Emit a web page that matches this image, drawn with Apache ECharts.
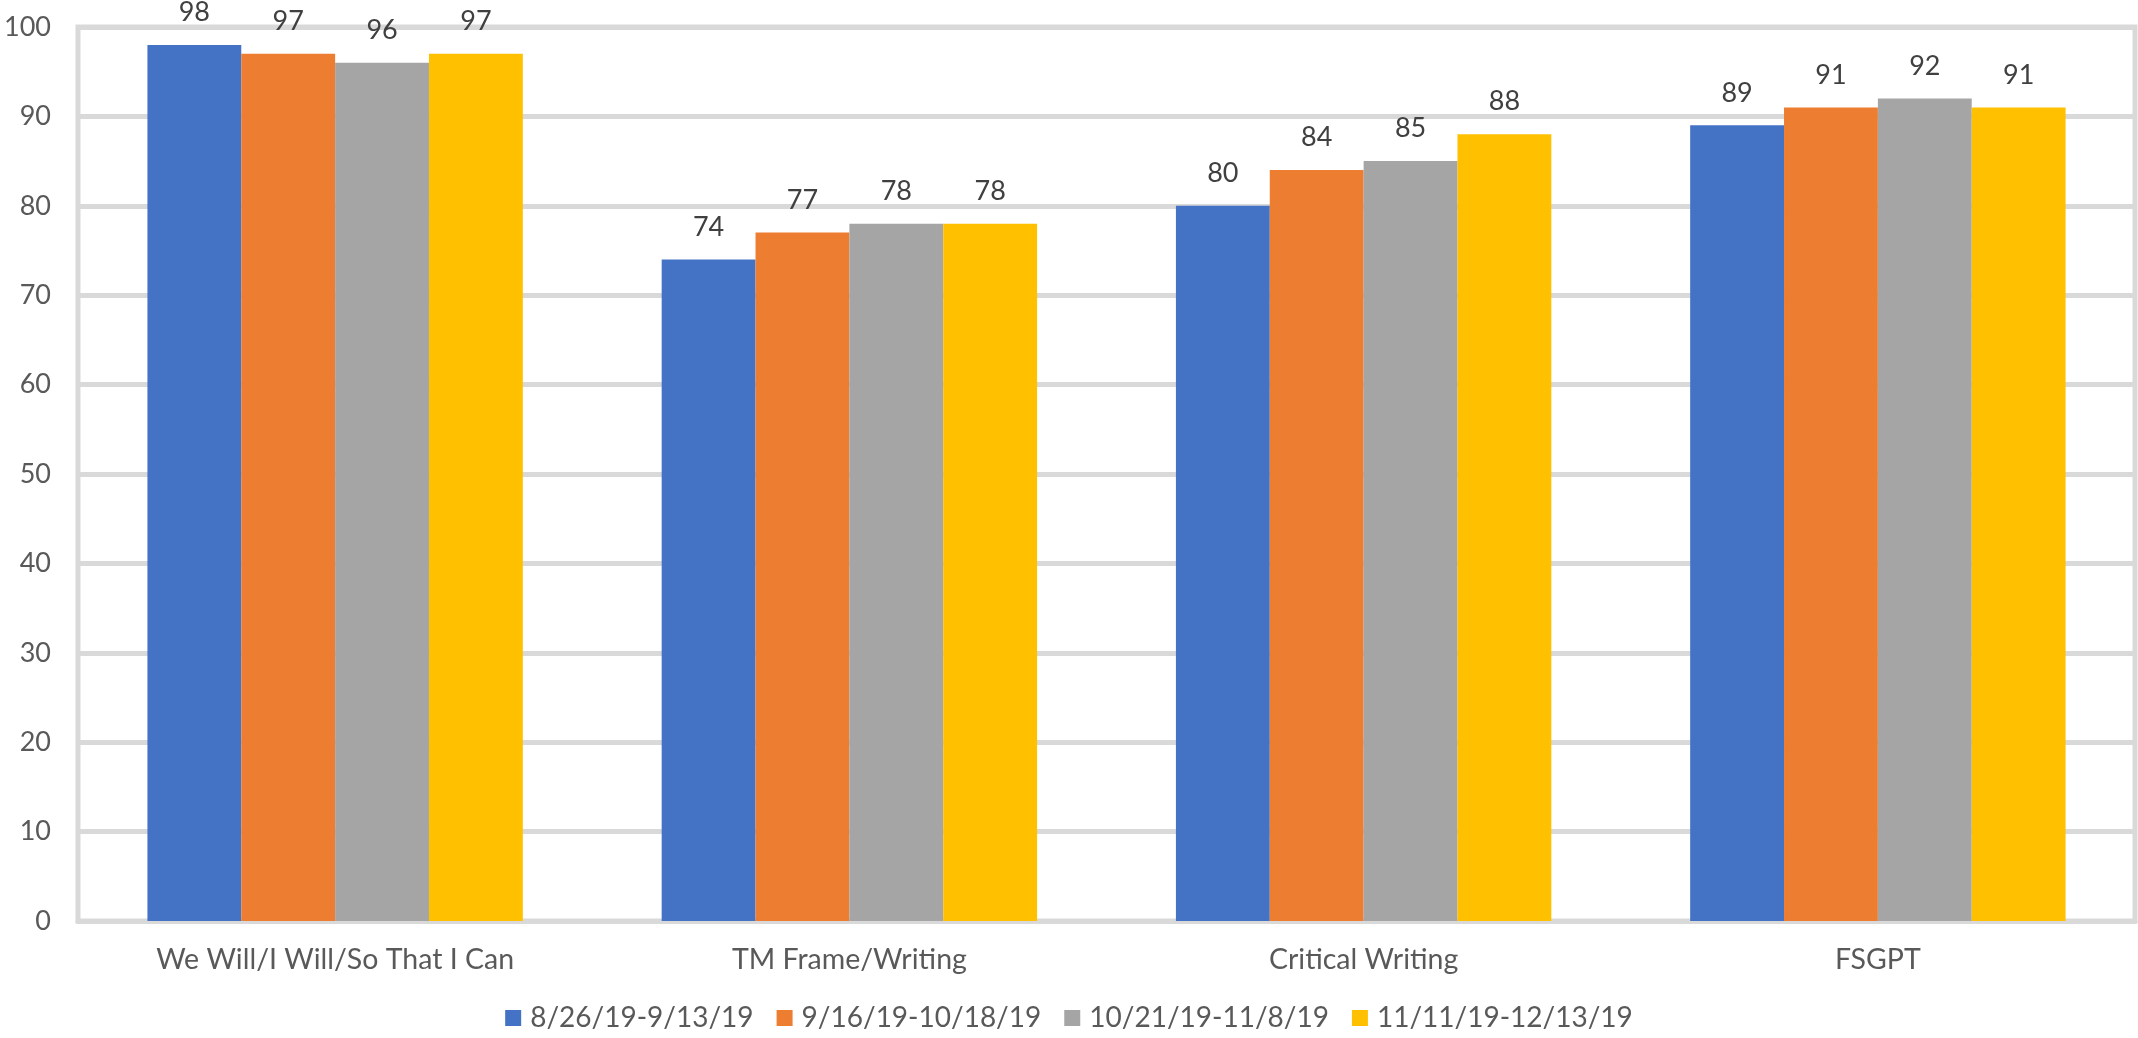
<!DOCTYPE html>
<html>
<head>
<meta charset="utf-8">
<script src="https://cdn.jsdelivr.net/npm/echarts@6/dist/echarts.min.js"></script>
<style>
  html, body { margin: 0; padding: 0; background: #ffffff; }
  #chart { width: 2138px; height: 1038px; }
</style>
</head>
<body>
<div id="chart"></div>
<script>
// Practice categories and score periods
const categories = ['We Will/I Will/So That I Can', 'TM Frame/Writing', 'Critical Writing', 'FSGPT'];
const periods = ['8/26/19-9/13/19', '9/16/19-10/18/19', '10/21/19-11/8/19', '11/11/19-12/13/19'];

// Scores per period, one value per category
const period1 = [98, 74, 80, 89];
const period2 = [97, 77, 84, 91];
const period3 = [96, 78, 85, 92];
const period4 = [97, 78, 88, 91];

const seriesValues = [period1, period2, period3, period4];
const colors = ['#4472C4', '#ED7D31', '#A5A5A5', '#FFC000'];

const FONT = 'Lato, "Open Sans", sans-serif';

const chart = echarts.init(document.getElementById('chart'), null, { renderer: 'canvas' });

chart.setOption({
  backgroundColor: '#ffffff',
  animation: false,
  textStyle: { fontFamily: FONT },
  grid: {
    left: 78, right: 3, top: 27, bottom: 117,
    show: true,
    borderColor: '#d9d9d9',
    borderWidth: 5,
    containLabel: false
  },
  legend: {
    data: periods,
    bottom: 1,
    left: 'center',
    icon: 'rect',
    itemWidth: 16,
    itemHeight: 16,
    itemGap: 23,
    textStyle: { fontFamily: FONT, fontSize: 28, color: '#595959', padding: [0, 0, 0, 4] }
  },
  xAxis: {
    type: 'category',
    data: categories,
    axisLine: { show: true, lineStyle: { color: '#d9d9d9', width: 5 } },
    axisTick: { show: false },
    axisLabel: { fontFamily: FONT, fontSize: 28.5, color: '#595959', margin: 24 }
  },
  yAxis: {
    type: 'value',
    min: 0,
    max: 100,
    interval: 10,
    axisLine: { show: false },
    axisTick: { show: false },
    axisLabel: { fontFamily: FONT, fontSize: 27, color: '#595959', margin: 27 },
    splitLine: { show: true, lineStyle: { color: '#d9d9d9', width: 5 } }
  },
  series: seriesValues.map((vals, i) => ({
    name: periods[i],
    type: 'bar',
    data: vals,
    barGap: '0%',
    barCategoryGap: '27%',
    itemStyle: { color: colors[i] },
    label: {
      show: true,
      position: 'top',
      distance: 19,
      fontFamily: FONT,
      fontSize: 27,
      color: '#404040'
    }
  }))
});
</script>
</body>
</html>
